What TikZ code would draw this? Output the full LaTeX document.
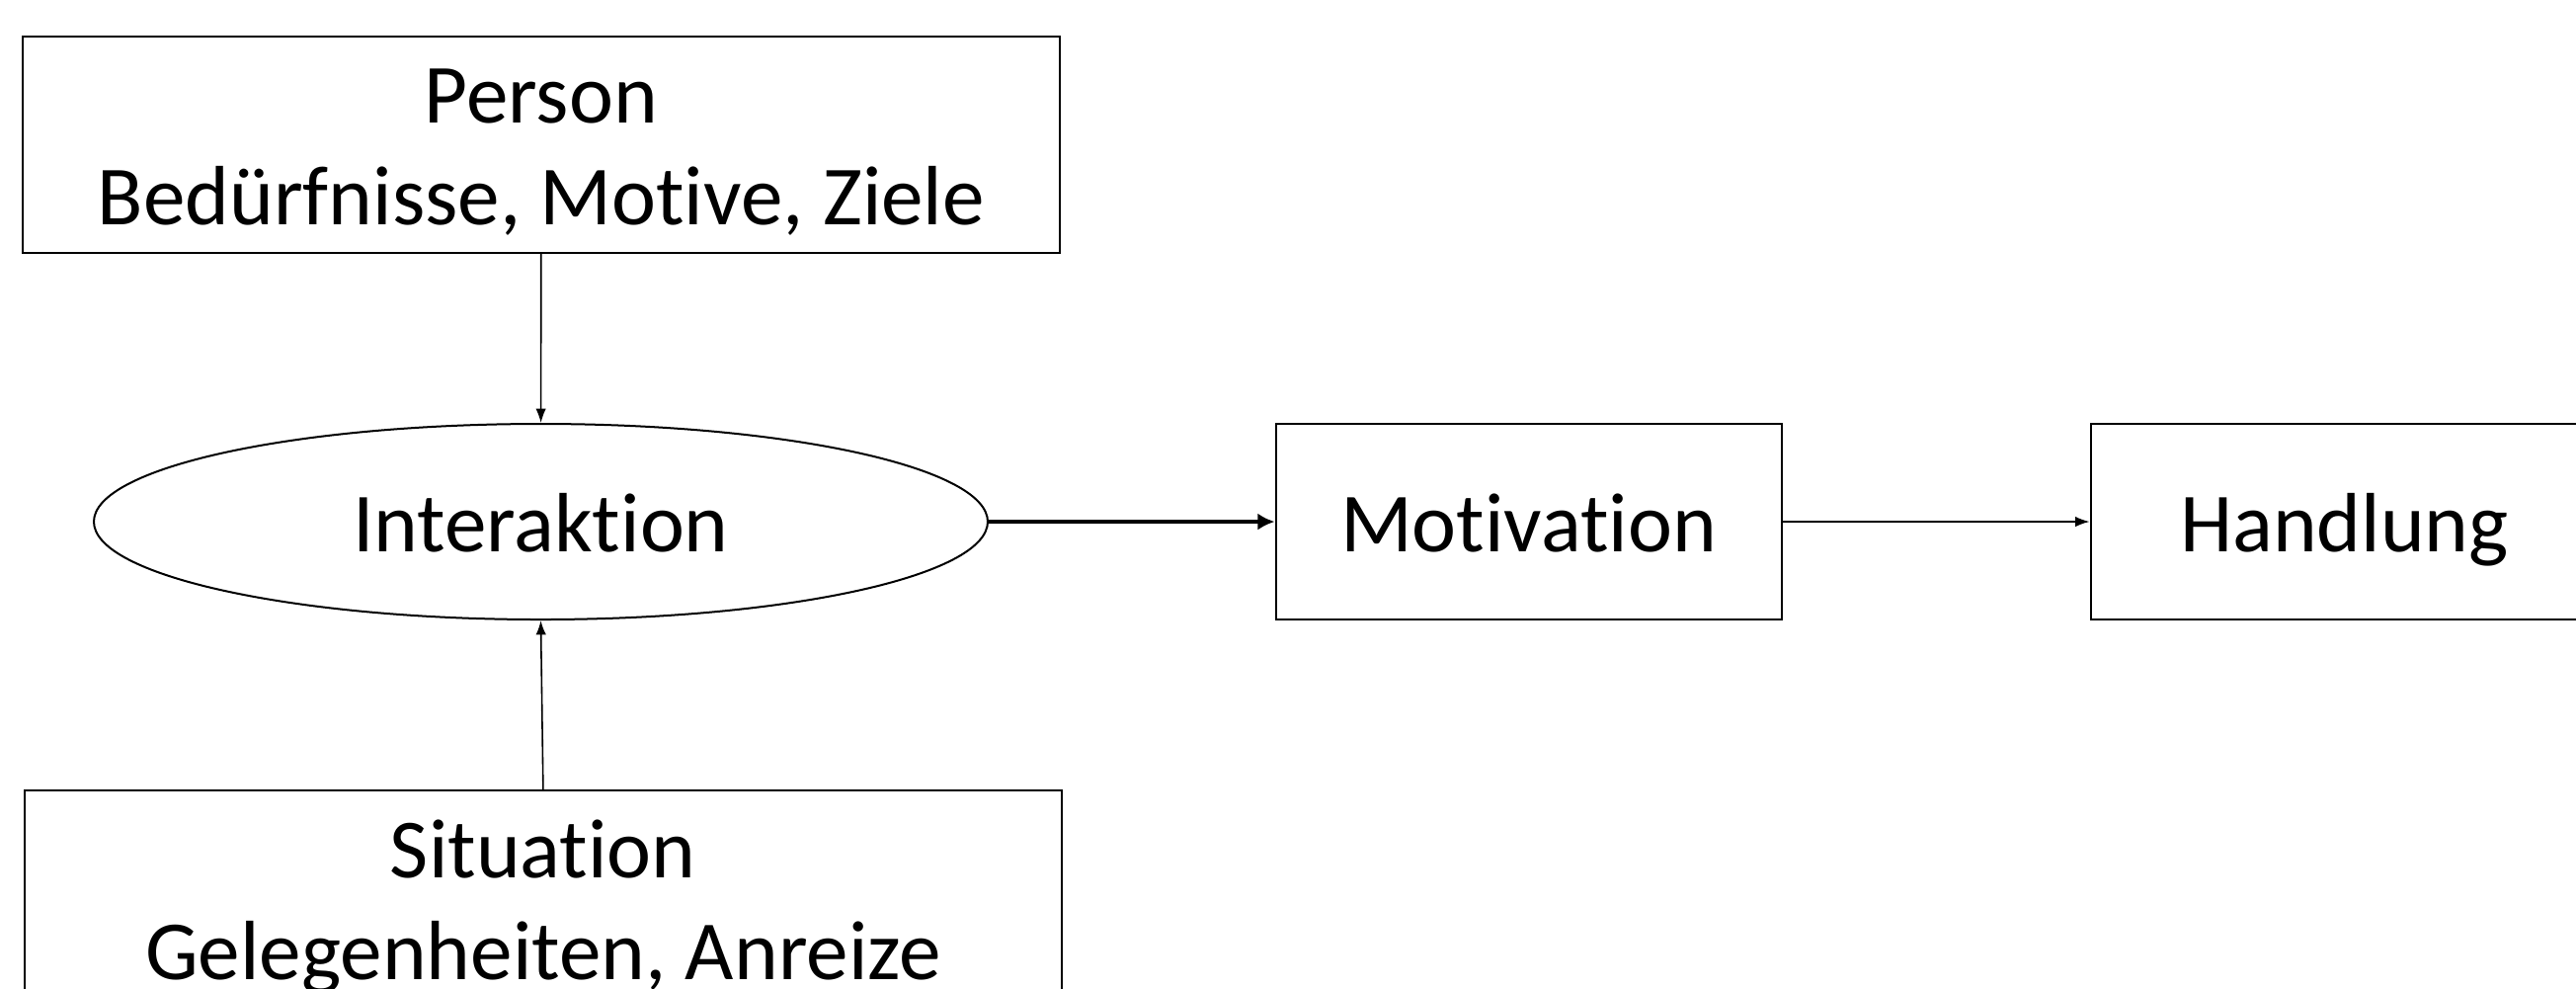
\documentclass[tikz,border=0pt]{standalone}
\usepackage{fontspec}
\setmainfont[Ligatures=NoCommon]{Carlito}
\usetikzlibrary{arrows.meta,shapes.geometric}
\tikzset{%
  >={Latex[width=2.6pt,length=3.6pt]},
            base/.style = {rectangle, draw=black, line width=0.5pt,
                           inner sep=0pt, text centered,
                           font=\fontsize{21.3}{25.75}\selectfont},
  box0/.style = {base, minimum width=262.5pt, minimum height=54.75pt, align=center,
                 text height=40.75pt, text depth=0pt},
  box1/.style = {base, minimum width=128pt, minimum height=49.5pt, align=center,
                 text height=15pt, text depth=0pt},
  ell0/.style = {base, ellipse, minimum width=226.25pt, minimum height=49.5pt,
                 text height=15pt, text depth=0pt},
  thin/.style = {->, line width=0.4pt},
  thick/.style = {-{Latex[width=4.3pt,length=4.3pt]}, line width=1pt},
}
\begin{document}
\begin{tikzpicture}[x=0.25pt, y=0.25pt, node distance=95.4pt, align=center]
  \useasboundingbox (0,0) rectangle (2608,-1000);
  \clip (0,0) rectangle (2608,-1000);

  \node (onInter)  [ell0] at (547.5,-528)                  {Interaktion};
  \node (onPerson) [box0, above of=onInter, xshift= 0.1pt] {Person\\Bedürfnisse, Motive, Ziele};
  \node (onSit)    [box0, below of=onInter, xshift= 0.6pt] {Situation\\Gelegenheiten, Anreize};
  \node (onMotiv)  [box1, right of=onInter, xshift=154.6pt] {Motivation};
  \node (onHandl)  [box1, right of=onMotiv, xshift=111.1pt, minimum width=128.5pt] {Handlung};

  \draw[thin]  (onPerson) -- (onInter);
  \draw[thin]  (onSit.north) -- (onInter.south);
  \draw[thick] (onInter)  -- (onMotiv);
  \draw[thin]  (onMotiv)  -- (onHandl);
\end{tikzpicture}
\end{document}
